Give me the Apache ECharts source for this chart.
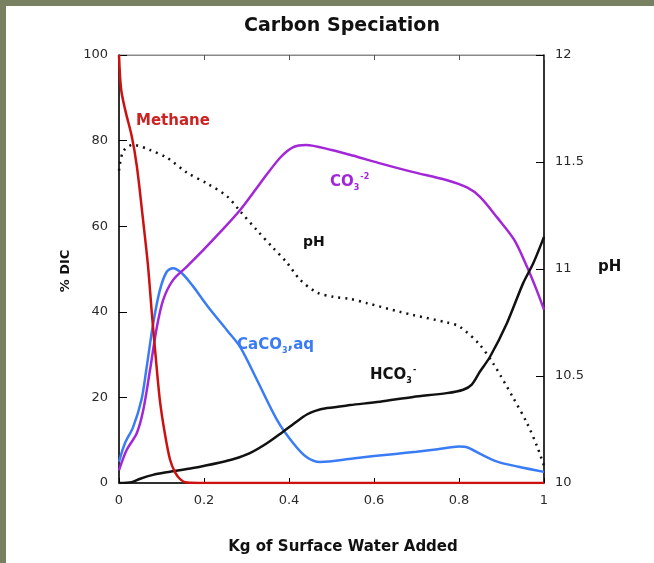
<!DOCTYPE html>
<html>
<head>
<meta charset="utf-8">
<script src="https://cdn.jsdelivr.net/npm/echarts@6/dist/echarts.min.js"></script>
<style>
  html, body { margin: 0; padding: 0; background: #788062; }
  #chart { position: absolute; left: 6px; top: 6px; width: 648px; height: 557px; background: #fff; }
</style>
</head>
<body>
<div id="chart"></div>
<script>
    // values: [kg of surface water, % DIC] and [kg, pH]
    var methane = [[0,100],[0.005,92],[0.015,87],[0.03,81],[0.042,74],[0.056,62],[0.068,51],[0.077,40],[0.085,31],
        [0.096,19.5],[0.108,11.5],[0.12,5.5],[0.132,2.5],[0.145,0.8],[0.16,0.1],[0.2,0],[0.4,0],[0.6,0],[0.8,0],[1,0]];
    var caco3 = [[0,5],[0.014,9.3],[0.033,13],[0.053,19.5],[0.065,27],[0.08,37],[0.096,45],[0.112,49.3],[0.127,50.2],
        [0.148,49],[0.174,46],[0.19,43.8],[0.214,40.6],[0.254,35.7],[0.285,31.8],[0.325,24],[0.372,14.7],[0.41,9.3],
        [0.442,6],[0.473,4.9],[0.55,5.7],[0.6,6.3],[0.65,6.8],[0.7,7.3],[0.75,7.9],[0.8,8.5],[0.82,8.3],[0.85,6.8],
        [0.89,5],[0.94,3.8],[1,2.6]];
    var co3 = [[0,3],[0.018,7.7],[0.042,11.7],[0.057,17],[0.073,26.4],[0.089,36.4],[0.104,42.8],[0.127,47.4],[0.159,50.5],
        [0.198,54.4],[0.238,58.6],[0.285,63.8],[0.332,70],[0.379,76],[0.41,78.5],[0.44,79],[0.5,77.8],[0.55,76.5],
        [0.61,74.8],[0.69,72.7],[0.77,70.8],[0.82,69],[0.85,66.8],[0.89,62],[0.93,56.8],[0.96,50.5],[0.983,45],[1,40.5]];
    var hco3 = [[0,0],[0.03,0.2],[0.05,1],[0.08,1.9],[0.112,2.5],[0.174,3.5],[0.238,4.8],[0.27,5.6],[0.308,7],[0.348,9.3],
        [0.386,12],[0.42,14.5],[0.442,16],[0.46,16.8],[0.49,17.5],[0.544,18.2],[0.614,19],[0.692,20.1],[0.771,21],
        [0.81,21.8],[0.83,23],[0.849,26],[0.873,29.5],[0.913,37.4],[0.951,46.7],[0.975,51.4],[1,57.5]];
    var ph = [[0,11.46],[0.01,11.55],[0.033,11.58],[0.073,11.556],[0.113,11.52],[0.16,11.45],[0.207,11.4],[0.254,11.34],
        [0.285,11.27],[0.325,11.18],[0.362,11.1],[0.395,11.03],[0.426,10.95],[0.466,10.89],[0.504,10.87],[0.544,10.86],
        [0.584,10.84],[0.661,10.8],[0.692,10.785],[0.772,10.75],[0.802,10.73],[0.847,10.65],[0.88,10.56],[0.927,10.4],
        [0.96,10.28],[0.984,10.17],[1,10.08]];

    var font = 'DejaVu Sans, sans-serif';
    var tickLbl = { color: '#2a2a2a', fontSize: 13, fontFamily: font, margin: 11 };

    // rich text for the species labels (subscript 3, superscript charge)
    function chem(color, size) {
        return {
            a: { fontSize: size, fontWeight: 'bold', fill: color, fontFamily: font },
            s: { fontSize: 8, fontWeight: 'bold', fill: color, fontFamily: font, padding: [12, 0, 0, 0] },
            p: { fontSize: 8, fontWeight: 'bold', fill: color, fontFamily: font, padding: [0, 0, 10, 1] }
        };
    }

    var myChart = echarts.init(document.getElementById('chart'));
    var option = {
        animation: false,
        grid: { left: 113, right: 110, top: 49, bottom: 80, show: true, borderColor: '#888', borderWidth: 1 },
        xAxis: [
            {
                type: 'value', min: 0, max: 1, interval: 0.2,
                axisLine: { lineStyle: { color: '#000', width: 1.5 } },
                axisTick: { inside: true, length: 5, lineStyle: { color: '#000' } },
                axisLabel: tickLbl,
                splitLine: { show: false }
            },
            {
                type: 'value', min: 0, max: 1, interval: 0.2, position: 'top',
                axisLine: { show: true, onZero: false, lineStyle: { color: '#888' } },
                axisTick: { inside: true, length: 5, lineStyle: { color: '#555' } },
                axisLabel: { show: false },
                splitLine: { show: false }
            }
        ],
        yAxis: [
            {
                type: 'value', min: 0, max: 100, interval: 20,
                axisLine: { show: true, onZero: false, lineStyle: { color: '#000', width: 1.5 } },
                axisTick: { show: true, inside: true, length: 8, lineStyle: { color: '#000' } },
                axisLabel: tickLbl,
                splitLine: { show: false }
            },
            {
                type: 'value', min: 10, max: 12, interval: 0.5, position: 'right',
                axisLine: { show: true, onZero: false, lineStyle: { color: '#000', width: 1.5 } },
                axisTick: { show: true, inside: true, length: 8, lineStyle: { color: '#000' } },
                axisLabel: tickLbl,
                splitLine: { show: false }
            }
        ],
        graphic: [
            { type: 'text', x: 336, y: 20, style: { text: 'Carbon Speciation', align: 'center', verticalAlign: 'middle',
                fontSize: 19, fontWeight: 'bold', fill: '#111', fontFamily: font } },
            { type: 'text', x: 337, y: 541, style: { text: 'Kg of Surface Water Added', align: 'center', verticalAlign: 'middle',
                fontSize: 15, fontWeight: 'bold', fill: '#111', fontFamily: font } },
            { type: 'text', x: 60, y: 265, rotation: Math.PI / 2, style: { text: '% DIC', align: 'center', verticalAlign: 'middle',
                fontSize: 13, fontWeight: 'bold', fill: '#111', fontFamily: font } },
            { type: 'text', x: 592, y: 261, style: { text: 'pH', verticalAlign: 'middle',
                fontSize: 15, fontWeight: 'bold', fill: '#111', fontFamily: font } },
            { type: 'text', x: 130, y: 115, style: { text: 'Methane', verticalAlign: 'middle',
                fontSize: 15, fontWeight: 'bold', fill: '#cc2222', fontFamily: font } },
            { type: 'text', x: 297, y: 236, style: { text: 'pH', verticalAlign: 'middle',
                fontSize: 14, fontWeight: 'bold', fill: '#111', fontFamily: font } },
            { type: 'text', x: 324, y: 166, style: { text: '{a|CO}{s|3}{p|-2}', rich: chem('#a326d8', 15) } },
            { type: 'text', x: 231, y: 329, style: { text: '{a|CaCO}{s|3}{a|,aq}', rich: chem('#3a7cf5', 15) } },
            { type: 'text', x: 364, y: 359, style: { text: '{a|HCO}{s|3}{p|-}', rich: chem('#111', 15) } }
        ],
        series: [
            { name: 'pH', type: 'line', yAxisIndex: 1, data: ph, smooth: 0.3, showSymbol: false,
              lineStyle: { color: '#111', width: 2.5, type: [2, 5] } },
            { name: 'CaCO3,aq', type: 'line', data: caco3, smooth: 0.3, showSymbol: false,
              lineStyle: { color: '#3a7cf5', width: 2.5 } },
            { name: 'CO3-2', type: 'line', data: co3, smooth: 0.3, showSymbol: false,
              lineStyle: { color: '#a326d8', width: 2.5 } },
            { name: 'HCO3-', type: 'line', data: hco3, smooth: 0.3, showSymbol: false,
              lineStyle: { color: '#111', width: 2.5 } },
            { name: 'Methane', type: 'line', data: methane, smooth: 0.3, showSymbol: false,
              lineStyle: { color: '#cc1111', width: 2.5 } }
        ]
    };
    myChart.setOption(option);
</script>
</body>
</html>
